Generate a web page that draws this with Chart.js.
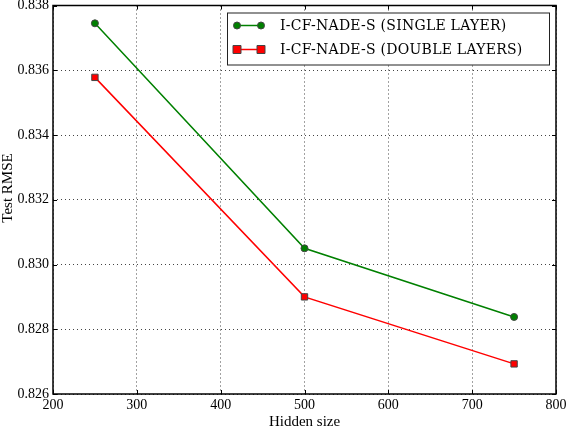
<!DOCTYPE html>
<html>
<head>
<meta charset="utf-8">
<script src="https://cdn.jsdelivr.net/npm/chart.js@4.4.0/dist/chart.umd.min.js"></script>
<style>
  html, body { margin: 0; padding: 0; background: #fff; }
  .chart-wrap { width: 568px; height: 428px; position: relative; }
</style>
</head>
<body>
<div class="chart-wrap"><canvas id="rmse-chart"></canvas></div>
<script>
// Data
const hiddenSizes = [250, 500, 750];
const singleLayer = [0.83745, 0.8305, 0.82838];
const doubleLayers = [0.83578, 0.8290, 0.82693];
const seriesNames = ['I-CF-NADE-S (SINGLE LAYER)', 'I-CF-NADE-S (DOUBLE LAYERS)'];
const xTicks = [200, 300, 400, 500, 600, 700, 800];
const yTicks = [0.826, 0.828, 0.830, 0.832, 0.834, 0.836, 0.838];
const xTitle = 'Hidden size';
const yTitle = 'Test RMSE';

const SERIF = '"Liberation Serif", "DejaVu Serif", serif';
const toPoints = (xs, ys) => xs.map((x, i) => ({ x, y: ys[i] }));

// frame, inward ticks, axis titles, legend (matplotlib look)
const mplPlugin = {
  id: 'mpl',
  afterDatasetsDraw(chart) {
    const { ctx, chartArea: a, scales } = chart;
    ctx.save();
    ctx.strokeStyle = '#000';
    ctx.lineWidth = 1;
    ctx.beginPath();
    xTicks.forEach(v => {
      const px = Math.round(scales.x.getPixelForValue(v)) + 0.5;
      ctx.moveTo(px, a.bottom); ctx.lineTo(px, a.bottom - 4);
      ctx.moveTo(px, a.top); ctx.lineTo(px, a.top + 4);
    });
    yTicks.forEach(v => {
      const py = Math.round(scales.y.getPixelForValue(v)) + 0.5;
      ctx.moveTo(a.left, py); ctx.lineTo(a.left + 4, py);
      ctx.moveTo(a.right, py); ctx.lineTo(a.right - 4, py);
    });
    ctx.stroke();
    ctx.lineWidth = 1.5;
    ctx.strokeRect(a.left, a.top, a.right - a.left, a.bottom - a.top);

    // axis titles
    ctx.fillStyle = '#000';
    ctx.font = '15px ' + SERIF;
    ctx.textAlign = 'center';
    ctx.textBaseline = 'middle';
    ctx.fillText(xTitle, (a.left + a.right) / 2, 422);
    ctx.save();
    ctx.translate(8, 188);
    ctx.rotate(-Math.PI / 2);
    ctx.fillText(yTitle, 0, 0);
    ctx.restore();

    // legend
    const bx = a.right - 329, by = a.top + 7, bw = 322, bh = 52;
    ctx.fillStyle = '#fff';
    ctx.fillRect(bx, by, bw, bh);
    ctx.lineWidth = 1;
    ctx.strokeStyle = '#222';
    ctx.strokeRect(bx + 0.5, by + 0.5, bw, bh);
    chart.data.datasets.forEach((ds, i) => {
      const y = by + 13 + i * 24;
      ctx.strokeStyle = ds.borderColor;
      ctx.lineWidth = 1.5;
      ctx.beginPath();
      ctx.moveTo(bx + 10, y); ctx.lineTo(bx + 34, y);
      ctx.stroke();
      [bx + 10, bx + 34].forEach(mx => {
        ctx.fillStyle = ds.pointBackgroundColor;
        ctx.strokeStyle = ds.pointBorderColor;
        ctx.lineWidth = 1;
        ctx.beginPath();
        if (ds.pointStyle === 'rect') ctx.rect(mx - 4, y - 4, 8, 8);
        else ctx.arc(mx, y, 3.5, 0, Math.PI * 2);
        ctx.fill(); ctx.stroke();
      });
      ctx.fillStyle = '#000';
      ctx.font = '14px "DejaVu Serif", serif';
      ctx.letterSpacing = '0.25px';
      ctx.textAlign = 'left';
      ctx.textBaseline = 'middle';
      ctx.fillText(ds.label, bx + 53, y + 1);
      ctx.letterSpacing = '0px';
    });
    ctx.restore();
  }
};

new Chart(document.getElementById('rmse-chart'), {
  type: 'line',
  data: {
    datasets: [
      {
        label: seriesNames[0],
        data: toPoints(hiddenSizes, singleLayer),
        borderColor: '#008000', borderWidth: 1.5,
        pointStyle: 'circle', pointRadius: 3.5, pointHoverRadius: 3.5,
        pointBackgroundColor: '#008000', pointBorderColor: '#444', pointBorderWidth: 1
      },
      {
        label: seriesNames[1],
        data: toPoints(hiddenSizes, doubleLayers),
        borderColor: '#ff0000', borderWidth: 1.5,
        pointStyle: 'rect', pointRadius: 4.5, pointHoverRadius: 4.5,
        pointBackgroundColor: '#ff0000', pointBorderColor: '#444', pointBorderWidth: 1
      }
    ]
  },
  options: {
    responsive: true, maintainAspectRatio: false, animation: false,
    layout: { padding: { top: 5, right: 12, left: 0, bottom: 0 } },
    plugins: { legend: { display: false }, tooltip: { enabled: false } },
    scales: {
      x: {
        type: 'linear', min: 200, max: 800,
        afterBuildTicks: s => { s.ticks = xTicks.map(v => ({ value: v })); },
        afterFit: s => { s.height = 34; s.paddingLeft = 0; s.paddingRight = 0; },
        ticks: { color: '#000', padding: 3, font: { family: SERIF, size: 14 } },
        grid: { color: '#444', lineWidth: 1, drawTicks: false },
        border: { display: false, dash: [1, 3] }
      },
      y: {
        min: 0.826, max: 0.838,
        afterBuildTicks: s => { s.ticks = yTicks.map(v => ({ value: v })); },
        afterFit: s => { s.width = 53; s.paddingTop = 0; s.paddingBottom = 0; },
        ticks: { color: '#000', padding: 4, font: { family: SERIF, size: 14 }, callback: v => v.toFixed(3) },
        grid: { color: '#444', lineWidth: 1, drawTicks: false },
        border: { display: false, dash: [1, 3] }
      }
    }
  },
  plugins: [mplPlugin]
});
</script>
</body>
</html>
